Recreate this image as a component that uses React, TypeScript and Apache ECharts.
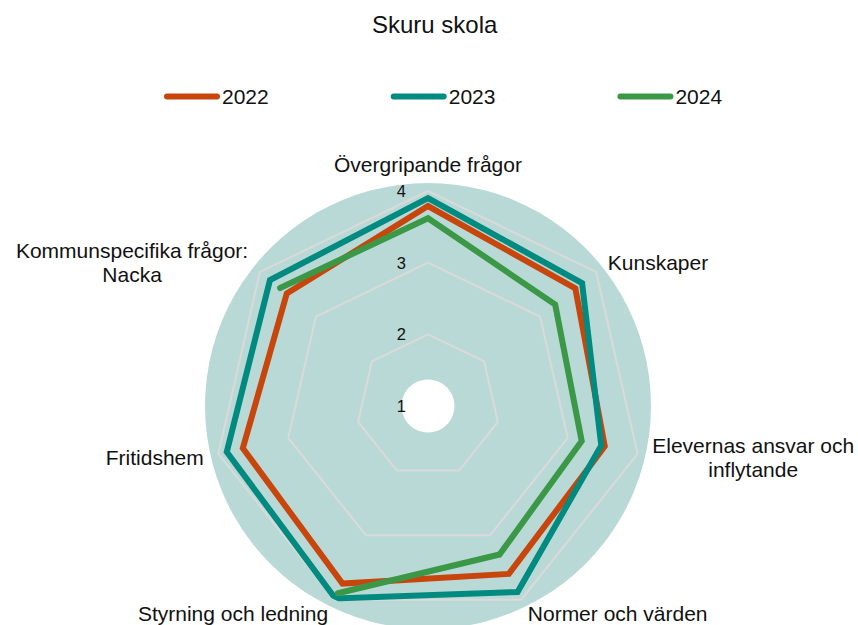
import React, { useEffect, useRef } from 'react';
import * as echarts from 'echarts';

const chartTitle = 'Skuru skola';
const categories = [
  'Övergripande frågor',
  'Kunskaper',
  'Elevernas ansvar och\ninflytande',
  'Normer och värden',
  'Styrning och ledning',
  'Fritidshem',
  'Kommunspecifika frågor:\nNacka',
];
const years = ['2022', '2023', '2024'];
const values2022: (number | null)[] = [3.79, 3.63, 3.53, 3.6, 3.75, 3.65, 3.52];
const values2023: (number | null)[] = [3.9, 3.75, 3.48, 3.88, 3.98, 3.88, 3.82];
const values2024: (number | null)[] = [3.62, 3.27, 3.2, 3.3, 3.9, null, 3.64];
const scaleMin = 1;
const scaleMax = 4;
const tickLabels = ['1', '2', '3', '4'];
const colors = ['#c8460c', '#008a80', '#3a9846'];

const FONT = "'Liberation Sans', Arial, Helvetica, sans-serif";
const CENTER = [428, 406];
const RADIUS = 215;

function loopData(vals: (number | null)[]) {
  const n = vals.length;
  const gap = vals.findIndex((v) => v == null);
  const out: (number | string)[][] = [];
  if (gap < 0) {
    for (let k = 0; k <= n + 1; k++) out.push([vals[k % n] as number, k]);
  } else {
    for (let k = gap + 1; k < gap + n; k++) {
      const v = vals[k % n];
      out.push([v == null ? '-' : v, k]);
    }
  }
  return out;
}

export default function App() {
  const ref = useRef<HTMLDivElement>(null);
  useEffect(() => {
    document.body.style.margin = '0';
    if (!ref.current) return;
    const chart = echarts.init(ref.current, undefined, { renderer: 'svg' });
    const n = categories.length;
    // ECharts radar places indicators counter-clockwise; reorder so they run clockwise
    const order = [0, ...Array.from({ length: n - 1 }, (_, i) => n - 1 - i)];
    const nameRich = {
      c: { align: 'center', fontSize: 21, lineHeight: 24, color: '#111', fontFamily: FONT },
    };
    const seriesValues = [values2022, values2023, values2024];
    const option: any = {
      animation: false,
      backgroundColor: '#fff',
      textStyle: { fontFamily: FONT },
      title: {
        text: chartTitle,
        left: 372,
        top: 12,
        padding: 0,
        textStyle: { fontSize: 24, fontWeight: 'normal', color: '#111', fontFamily: FONT },
      },
      legend: {
        data: years,
        left: 164,
        top: 86,
        padding: 0,
        itemGap: 122,
        itemWidth: 50,
        itemHeight: 6,
        textStyle: { fontSize: 21, color: '#111', fontFamily: FONT },
        lineStyle: { width: 6, cap: 'round' },
      },
      radar: [
        {
          center: CENTER,
          radius: 223,
          shape: 'circle',
          splitNumber: 1,
          z: 0,
          silent: true,
          indicator: order.map(() => ({ name: '', min: 0, max: 1 })),
          axisName: { show: false },
          axisLine: { show: false },
          axisTick: { show: false },
          axisLabel: { show: false },
          splitLine: { show: false },
          splitArea: { show: true, areaStyle: { color: ['#b9d9d6'] } },
        },
        {
          center: CENTER,
          radius: 26.5,
          shape: 'circle',
          splitNumber: 1,
          z: 1,
          silent: true,
          indicator: order.map(() => ({ name: '', min: 0, max: 1 })),
          axisName: { show: false },
          axisLine: { show: false },
          axisTick: { show: false },
          axisLabel: { show: false },
          splitLine: { show: false },
          splitArea: { show: true, areaStyle: { color: ['#ffffff'] } },
        },
        {
          center: CENTER,
          radius: RADIUS,
          shape: 'polygon',
          splitNumber: tickLabels.length - 1,
          startAngle: 90,
          z: 2,
          silent: true,
          indicator: order.map((i, idx) => ({
            name: categories[i],
            min: scaleMin,
            max: scaleMax,
            ...(idx === 0
              ? {
                  axisLabel: {
                    show: true,
                    margin: 22,
                    fontSize: 16.5,
                    color: '#111',
                    fontFamily: FONT,
                    formatter: (v: number) => (tickLabels.includes(String(v)) ? String(v) : ''),
                  },
                }
              : {}),
          })),
          axisNameGap: 15,
          axisName: {
            show: true,
            color: '#111',
            fontSize: 21,
            fontFamily: FONT,
            formatter: (name: string) =>
              name
                .split('\n')
                .map((s) => `{c|${s}}`)
                .join('\n'),
            rich: nameRich,
          },
          axisLine: { show: false },
          axisTick: { show: false },
          axisLabel: { show: false },
          splitLine: { show: true, lineStyle: { color: '#dadada', width: 2 } },
          splitArea: { show: false },
        },
      ],
      polar: { center: CENTER, radius: RADIUS, z: 3 },
      angleAxis: {
        type: 'value',
        min: 0,
        max: n,
        startAngle: 90,
        clockwise: true,
        show: false,
        axisLine: { show: false },
        axisLabel: { show: false },
        axisTick: { show: false },
        splitLine: { show: false },
      },
      radiusAxis: {
        type: 'value',
        min: scaleMin,
        max: scaleMax,
        show: false,
        axisLine: { show: false },
        axisLabel: { show: false },
        axisTick: { show: false },
        splitLine: { show: false },
      },
      series: years.map((y, si) => ({
        name: y,
        type: 'line',
        coordinateSystem: 'polar',
        z: 4,
        showSymbol: false,
        symbol: 'none',
        connectNulls: false,
        clip: false,
        silent: true,
        color: colors[si],
        itemStyle: { color: colors[si] },
        lineStyle: { color: colors[si], width: 6, cap: 'round', join: 'miter' },
        data: loopData(seriesValues[si]),
      })),
    };
    chart.setOption(option);
    return () => chart.dispose();
  }, []);
  return <div ref={ref} style={{ width: 858, height: 625, background: '#fff' }} />;
}
